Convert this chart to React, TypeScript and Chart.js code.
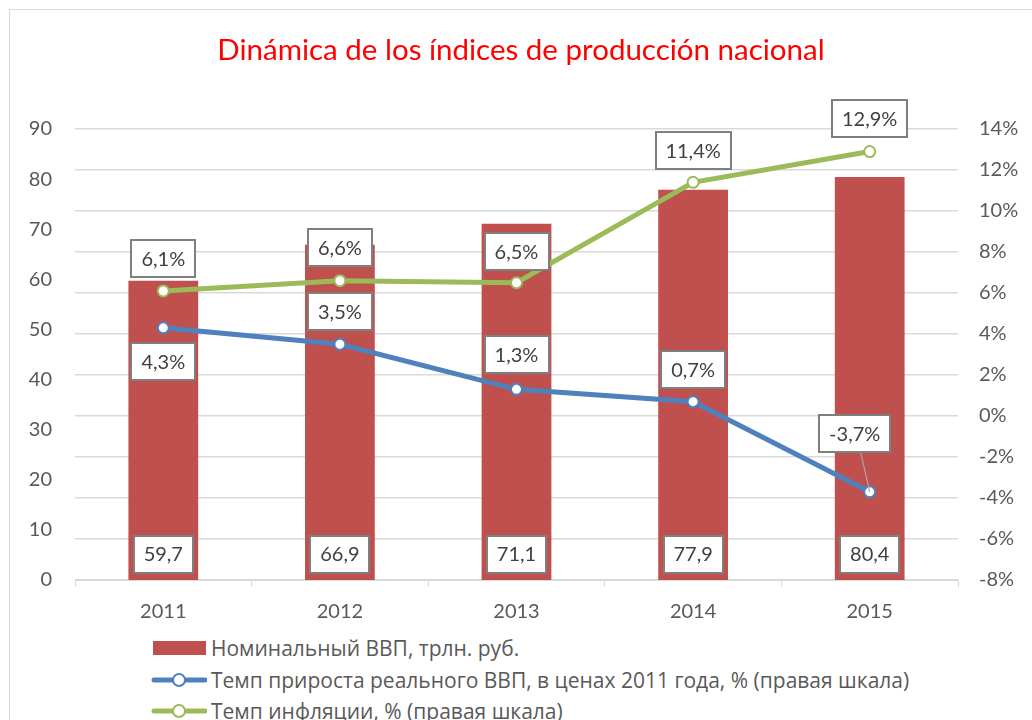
import React, { useEffect, useRef } from 'react';
import { Chart, registerables } from 'chart.js';

Chart.register(...registerables);

const titleText = 'Dinámica de los índices de producción nacional';
const years = ['2011', '2012', '2013', '2014', '2015'];
const nominalGdp = [59.7, 66.9, 71.1, 77.9, 80.4];
const realGrowth = [4.3, 3.5, 1.3, 0.7, -3.7];
const inflation = [6.1, 6.6, 6.5, 11.4, 12.9];
const leftAxis = { min: 0, max: 90, step: 10 };
const rightAxis = { min: -8, max: 14, step: 2 };
const seriesNames = [
  'Номинальный ВВП, трлн. руб.',
  'Темп прироста реального ВВП, в ценах 2011 года, % (правая шкала)',
  'Темп инфляции, % (правая шкала)',
];

const COLORS = { bar: '#C0504D', growth: '#4F81BD', inflation: '#9BBB59' };
const FONT = 'Lato, "Open Sans", sans-serif';

// label box offsets from their point (pixels)
const growthLabelOffsets = [[0, 34], [0, -33], [0, -35], [0, -32], [-15, -58]];
const inflationLabelOffsets = [[0, -32], [0, -33], [0, -31], [0, -32], [0, -33]];
const barLabelRise = 26;

const fmt = (v: number, pct: boolean) =>
  v.toFixed(1).replace('.', ',') + (pct ? '%' : '');

const boxLabels = {
  id: 'boxLabels',
  afterDatasetsDraw(chart: any) {
    const ctx = chart.ctx as CanvasRenderingContext2D;
    ctx.save();
    ctx.font = `20px ${FONT}`;
    const h = 37;
    const drawBox = (cx: number, cy: number, text: string) => {
      const w = Math.round(ctx.measureText(text).width + 20);
      const x0 = Math.round(cx - w / 2);
      const y0 = Math.round(cy - h / 2);
      ctx.fillStyle = '#ffffff';
      ctx.fillRect(x0, y0, w, h);
      ctx.strokeStyle = '#7f7f7f';
      ctx.lineWidth = 2;
      ctx.strokeRect(x0, y0, w, h);
      ctx.fillStyle = '#404040';
      ctx.textAlign = 'center';
      ctx.textBaseline = 'middle';
      ctx.fillText(text, cx, cy + 1);
    };
    const base = chart.scales.y.getPixelForValue(0);
    chart.getDatasetMeta(0).data.forEach((el: any, i: number) => {
      drawBox(el.x, base - barLabelRise, fmt(nominalGdp[i], false));
    });
    chart.getDatasetMeta(2).data.forEach((el: any, i: number) => {
      const [dx, dy] = inflationLabelOffsets[i];
      drawBox(el.x + dx, el.y + dy, fmt(inflation[i], true));
    });
    chart.getDatasetMeta(1).data.forEach((el: any, i: number) => {
      const [dx, dy] = growthLabelOffsets[i];
      if (Math.abs(dy) > 45) {
        ctx.strokeStyle = '#a6a6a6';
        ctx.lineWidth = 1.2;
        ctx.beginPath();
        ctx.moveTo(el.x, el.y);
        ctx.lineTo(el.x + dx + 6, el.y + dy + h / 2);
        ctx.stroke();
      }
      drawBox(el.x + dx, el.y + dy, fmt(realGrowth[i], true));
    });
    ctx.restore();
  },
};

function LegendIcon({ kind, color }: { kind: 'bar' | 'line'; color: string }) {
  if (kind === 'bar') {
    return (
      <svg width={56} height={16} style={{ display: 'block' }}>
        <rect x={2} y={1} width={53} height={14} fill={color} />
      </svg>
    );
  }
  return (
    <svg width={56} height={16} style={{ display: 'block' }}>
      <line x1={3} y1={8} x2={54} y2={8} stroke={color} strokeWidth={5} strokeLinecap="round" />
      <circle cx={28} cy={8} r={6} fill="#fff" stroke={color} strokeWidth={2} />
    </svg>
  );
}

export default function App() {
  const ref = useRef<HTMLCanvasElement>(null);

  useEffect(() => {
    if (!ref.current) return;
    const tickFont = { family: FONT, size: 20 };
    const chart = new Chart(ref.current, {
      type: 'bar',
      data: {
        labels: years,
        datasets: [
          {
            type: 'bar',
            label: seriesNames[0],
            data: nominalGdp,
            backgroundColor: COLORS.bar,
            yAxisID: 'y',
            barPercentage: 0.395,
            categoryPercentage: 1,
            order: 3,
          },
          {
            type: 'line',
            label: seriesNames[1],
            data: realGrowth,
            borderColor: COLORS.growth,
            backgroundColor: '#ffffff',
            borderWidth: 5,
            pointRadius: 5.5,
            pointBorderWidth: 2,
            pointBackgroundColor: '#ffffff',
            pointBorderColor: COLORS.growth,
            tension: 0,
            yAxisID: 'y1',
            order: 1,
          },
          {
            type: 'line',
            label: seriesNames[2],
            data: inflation,
            borderColor: COLORS.inflation,
            backgroundColor: '#ffffff',
            borderWidth: 5,
            pointRadius: 5.5,
            pointBorderWidth: 2,
            pointBackgroundColor: '#ffffff',
            pointBorderColor: COLORS.inflation,
            tension: 0,
            yAxisID: 'y1',
            order: 2,
          },
        ] as any,
      },
      options: {
        responsive: false,
        animation: false,
        layout: { padding: { left: 10, right: 0, top: 0, bottom: 0 } },
        plugins: {
          legend: { display: false },
          tooltip: { enabled: false },
          title: {
            display: true,
            text: titleText,
            color: '#ff0000',
            font: { family: FONT, size: 29.5, weight: 'normal' as any },
            padding: { top: 33, bottom: 60.6 },
          },
        },
        scales: {
          x: {
            grid: {
              offset: true,
              drawOnChartArea: false,
              drawTicks: true,
              tickLength: 7,
              color: '#d9d9d9',
            },
            border: { color: '#d9d9d9', width: 1 },
            ticks: { color: '#595959', font: tickFont, padding: 13 },
            afterFit: (s: any) => {
              s.height = 50;
            },
          },
          y: {
            position: 'left',
            min: leftAxis.min,
            max: leftAxis.max,
            ticks: { stepSize: leftAxis.step, color: '#595959', font: tickFont, padding: 23 },
            grid: { display: false, drawTicks: false },
            border: { display: false },
            afterFit: (s: any) => {
              s.width = 65;
            },
          },
          y1: {
            position: 'right',
            min: rightAxis.min,
            max: rightAxis.max,
            ticks: {
              stepSize: rightAxis.step,
              color: '#595959',
              font: tickFont,
              padding: 21,
              callback: (v: any) => v + '%',
            },
            grid: { color: '#d9d9d9', drawTicks: false, lineWidth: 1.5 },
            border: { display: false },
            afterFit: (s: any) => {
              s.width = 74;
            },
          },
        },
      } as any,
      plugins: [boxLabels],
    });
    return () => chart.destroy();
  }, []);

  const legendRows = [
    { kind: 'bar' as const, color: COLORS.bar, y: 648 },
    { kind: 'line' as const, color: COLORS.growth, y: 680 },
    { kind: 'line' as const, color: COLORS.inflation, y: 711 },
  ];

  return (
    <div
      style={{
        position: 'fixed',
        left: 0,
        top: 0,
        width: 1032,
        height: 720,
        overflow: 'hidden',
        background: '#fff',
      }}
    >
      <div
        style={{
          position: 'absolute',
          left: 9,
          top: 9,
          width: 1200,
          height: 900,
          border: '1.5px solid #d9d9d9',
        }}
      />
      <canvas
        ref={ref}
        width={1032}
        height={630}
        style={{ position: 'absolute', left: 0, top: 0, width: 1032, height: 630 }}
      />
      {legendRows.map((r, i) => (
        <div
          key={i}
          style={{
            position: 'absolute',
            left: 151,
            top: r.y - 15,
            height: 30,
            display: 'flex',
            alignItems: 'center',
            whiteSpace: 'nowrap',
            fontFamily: '"Open Sans", Lato, sans-serif',
            fontSize: 21,
            color: '#595959',
          }}
        >
          <LegendIcon kind={r.kind} color={r.color} />
          <span style={{ marginLeft: 4 }}>{seriesNames[i]}</span>
        </div>
      ))}
    </div>
  );
}
